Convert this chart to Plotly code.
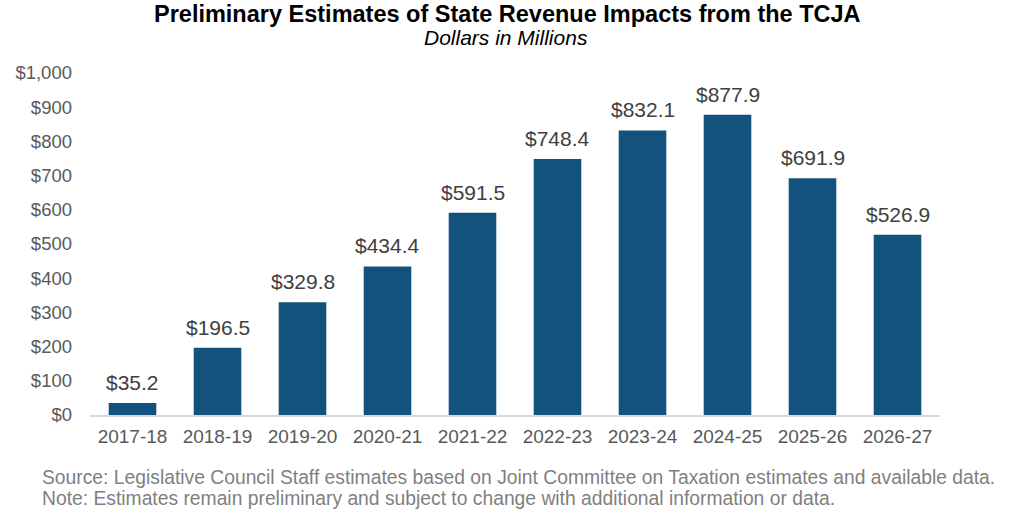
import plotly.graph_objects as go

years = ["2017-18", "2018-19", "2019-20", "2020-21", "2021-22",
         "2022-23", "2023-24", "2024-25", "2025-26", "2026-27"]
impacts = [35.2, 196.5, 329.8, 434.4, 591.5, 748.4, 832.1, 877.9, 691.9, 526.9]
y_ticks = list(range(0, 1001, 100))
y_tick_labels = ["$" + format(v, ",") for v in y_ticks]

bar_color = "#13527C"
font_family = "Liberation Sans, Arial, sans-serif"

fig = go.Figure()
fig.add_trace(go.Bar(
    x=years,
    y=impacts,
    marker=dict(color=bar_color, line=dict(width=0)),
    width=0.56,
    hoverinfo="x+y",
))

# data labels above the bars
for yr, val in zip(years, impacts):
    fig.add_annotation(
        x=yr, y=val, text="$" + format(val, ".1f"),
        showarrow=False, yanchor="bottom", yshift=7,
        font=dict(family=font_family, size=21, color="#404040"),
    )

# title and subtitle
fig.add_annotation(
    xref="paper", yref="paper", x=0.5, y=1.0, xshift=-8, yshift=73,
    text="<b>Preliminary Estimates of State Revenue Impacts from the TCJA</b>",
    showarrow=False, xanchor="center", yanchor="top", borderpad=0,
    font=dict(family=font_family, size=23.5, color="#000000"),
)
fig.add_annotation(
    xref="paper", yref="paper", x=0.5, y=1.0, xshift=-9, yshift=36,
    text="<i>Dollars in Millions</i>",
    showarrow=False, xanchor="center", yanchor="middle",
    font=dict(family=font_family, size=21, color="#000000"),
)

# source / note lines
notes = [
    "Source: Legislative Council Staff estimates based on Joint Committee on Taxation estimates and available data.",
    "Note: Estimates remain preliminary and subject to change with additional information or data.",
]
for i, line in enumerate(notes):
    fig.add_annotation(
        xref="paper", yref="paper", x=-50 / 850, y=0, yshift=-62 - 21 * i,
        text=line, showarrow=False, xanchor="left", yanchor="middle",
        font=dict(family=font_family, size=19.3, color="#7f7f7f"),
    )

fig.update_layout(
    width=1024, height=521,
    margin=dict(l=90, r=84, t=73, b=106),
    plot_bgcolor="white", paper_bgcolor="white",
    showlegend=False,
    font=dict(family=font_family, color="#595959", size=19),
)
fig.update_xaxes(
    type="category", range=[-0.5, 9.5],
    showline=True, linecolor="#d9d9d9", linewidth=1.5,
    ticks="", showgrid=False, ticklabelstandoff=3,
    tickfont=dict(family=font_family, size=19, color="#595959"),
)
fig.update_yaxes(
    range=[0, 1000], tickvals=y_ticks, ticktext=y_tick_labels,
    showgrid=False, zeroline=False, showline=False, ticks="",
    ticklabelstandoff=17,
    tickfont=dict(family=font_family, size=18.5, color="#595959"),
)

# the page body has a default 8px margin; drop it so the figure sits at 0,0
fig.write_html("out.html", config={"displayModeBar": False},
               post_script="document.body.style.margin='0px';")
